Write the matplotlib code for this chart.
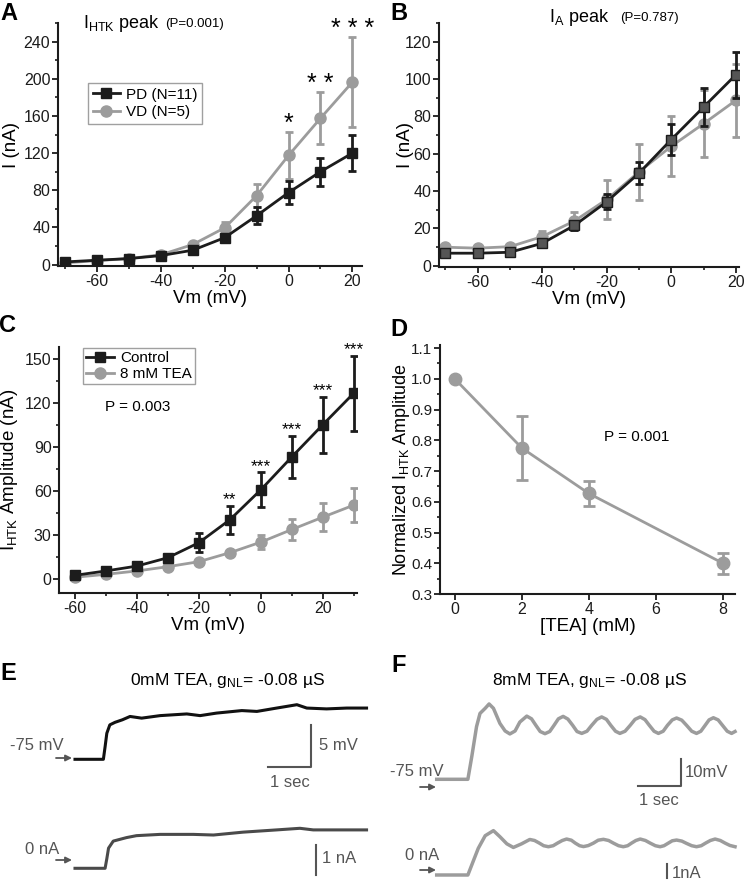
import matplotlib
matplotlib.use('Agg')
import matplotlib.pyplot as plt
from matplotlib.ticker import MultipleLocator
from matplotlib.lines import Line2D

plt.rcParams['font.family'] = ['Liberation Sans', 'DejaVu Sans']
plt.rcParams['mathtext.fontset'] = 'custom'
plt.rcParams['mathtext.rm'] = 'Liberation Sans'
plt.rcParams['mathtext.it'] = 'Liberation Sans:italic'
plt.rcParams['mathtext.bf'] = 'Liberation Sans:bold'
plt.rcParams['axes.unicode_minus'] = False

# ---- data ----
vm_ab = [-70, -60, -50, -40, -30, -20, -10, 0, 10, 20]
htk_pd = [2.9, 4.7, 6.5, 9.7, 15.5, 29, 52.6, 77.5, 100, 120]
htk_pd_err = [1, 1, 1, 1.5, 2, 4, 9, 12, 15, 19]
htk_vd = [1.8, 4.3, 6.5, 10.5, 21.6, 39.6, 74.2, 117.5, 157.5, 196.4]
htk_vd_err = [1, 1, 1, 2, 3, 6, 12.5, 25, 28, 48]
htk_stars = ['', '', '', '', '', '', '', '*', '* *', '* * *']

ia_pd = [6.6, 6.6, 7.1, 11.9, 21.5, 34.2, 49.5, 67.5, 84.9, 102.2]
ia_pd_err = [1, 1, 1, 1.5, 2.5, 4, 6, 8.5, 10, 12.5]
ia_vd = [9.8, 9.3, 10.1, 15.5, 23.9, 35.4, 50.2, 63.9, 76, 88.5]
ia_vd_err = [1, 1, 1, 3, 5, 10.5, 15, 16, 18, 19.5]

vm_c = [-60, -50, -40, -30, -20, -10, 0, 10, 20, 30]
ctrl = [2.7, 5.7, 9, 14.7, 24.9, 40.5, 60.9, 83.3, 105.2, 126.7]
ctrl_err = [1, 1, 1.5, 2, 6.5, 9.5, 12, 14.5, 19, 25.5]
tea = [1.4, 3.4, 5.7, 8.6, 12, 18.1, 25.3, 33.9, 42.3, 50.5]
tea_err = [0.5, 0.5, 1, 1, 1, 2, 5, 7, 9.5, 11.5]
c_stars = ['', '', '', '', '', '**', '***', '***', '***', '***']

tea_mm = [0, 2, 4, 8]
norm_amp = [1.0, 0.775, 0.627, 0.40]
norm_err = [0, 0.105, 0.04, 0.035]

# traces (time in s, voltage in mV, current in nA)
e_t = [0, 0.66, 0.70, 0.74, 0.81, 0.93, 1.1, 1.28, 1.55, 1.98, 2.6, 2.91,
       3.29, 3.88, 4.23, 4.69, 5.16, 5.39, 5.85, 6.32, 6.78]
e_v = [-75, -75, -73.5, -71.9, -70.9, -70.6, -70.3, -69.9, -70.1, -69.8, -69.6, -69.8,
       -69.5, -69.2, -69.3, -68.9, -68.5, -68.9, -69.0, -68.9, -68.9]
ei_t = [0, 0.70, 0.74, 0.78, 0.89, 1.2, 1.43, 1.98, 2.75, 3.22, 3.91, 4.69,
        5.23, 5.54, 6.24, 6.78]
ei_i = [0, 0, 0.3, 0.63, 0.85, 0.96, 1.02, 1.06, 1.06, 1.04, 1.13, 1.2,
        1.25, 1.2, 1.2, 1.2]

f_t = [0, 0.72, 0.81, 0.92, 1.00, 1.12, 1.21, 1.31, 1.46, 1.58, 1.69, 1.81, 1.92,
       2.08, 2.19, 2.29, 2.39, 2.50, 2.61, 2.71, 2.81,
       2.92, 3.03, 3.14, 3.24, 3.35, 3.47, 3.58, 3.70,
       3.81, 3.92, 4.02, 4.13, 4.23, 4.35, 4.47, 4.58,
       4.70, 4.81, 4.91, 5.02, 5.12, 5.23, 5.33, 5.44,
       5.54, 5.66, 5.77, 5.89, 6.00, 6.10, 6.20, 6.29,
       6.39, 6.50, 6.60, 6.71, 6.81, 6.89]
f_v = [-75, -75, -66.6, -55.5, -50.6, -48.7, -47.1, -48.7, -54.3, -57.1, -58.2, -57.1, -53.8,
       -51.6, -52.6, -55.0, -57.3, -58.1, -57.3, -55.0, -52.6,
       -51.7, -52.7, -55.0, -57.3, -58.0, -57.2, -55.0, -52.8,
       -51.9, -52.8, -55.0, -57.2, -58.0, -57.2, -55.0, -52.8,
       -51.9, -52.9, -55.0, -57.2, -58.0, -57.2, -55.0, -53.0,
       -52.3, -53.1, -55.0, -57.2, -58.0, -57.2, -55.0, -53.0,
       -52.2, -53.0, -55.0, -57.2, -58.0, -57.3]
fi_t = [0, 0.72, 0.85, 0.96, 1.12, 1.31, 1.46, 1.62, 1.77, 1.96,
        2.15, 2.26, 2.37, 2.47, 2.58, 2.69, 2.79, 2.90,
        3.00, 3.11, 3.20, 3.30, 3.39, 3.50, 3.62, 3.73,
        3.85, 3.97, 4.08, 4.20, 4.31, 4.41, 4.50, 4.60,
        4.70, 4.82, 4.93, 5.05, 5.16, 5.25, 5.35, 5.44,
        5.54, 5.66, 5.77, 5.89, 6.00, 6.11, 6.21, 6.32,
        6.43, 6.55, 6.66, 6.77, 6.89]
fi_i = [0, 0, 1.0, 1.84, 2.71, 3.06, 2.64, 2.15, 1.90, 2.15,
        2.45, 2.38, 2.20, 2.02, 1.95, 2.02, 2.20, 2.38,
        2.48, 2.40, 2.20, 2.02, 1.96, 2.03, 2.20, 2.40,
        2.46, 2.38, 2.20, 2.02, 1.95, 2.02, 2.20, 2.38,
        2.48, 2.38, 2.20, 2.02, 1.95, 2.02, 2.20, 2.36,
        2.41, 2.34, 2.18, 2.02, 1.95, 2.02, 2.20, 2.38,
        2.48, 2.38, 2.20, 2.04, 1.95]

# ---- layout helpers ----
W, H = 744, 884
black = '#1c1c1c'
gray = '#9c9c9c'
dgray = '#555555'

fig = plt.figure(figsize=(W / 100, H / 100), dpi=100)


def add_ax(l, t, r, b):
    return fig.add_axes([l / W, 1 - b / H, (r - l) / W, (b - t) / H])


def style(ax, size=11.5):
    for s in ['top', 'right']:
        ax.spines[s].set_visible(False)
    for s in ['left', 'bottom']:
        ax.spines[s].set_linewidth(1.5)
        ax.spines[s].set_color(black)
    ax.tick_params(which='major', direction='out', length=4, width=1.3,
                   labelsize=size, pad=1.5, colors=black)
    ax.tick_params(which='minor', direction='out', length=2.5, width=1.2, colors=black)


eb = dict(lw=2, elinewidth=2, capsize=3, capthick=2)

# ---- A ----
axA = add_ax(58, 23, 362, 266)
style(axA)
axA.errorbar(vm_ab, htk_vd, yerr=htk_vd_err, color=gray, marker='o', ms=8, zorder=2, **eb)
axA.errorbar(vm_ab, htk_pd, yerr=htk_pd_err, color=black, marker='s', ms=7, zorder=3, **eb)
for x, m, e, s in zip(vm_ab, htk_vd, htk_vd_err, htk_stars):
    if s:
        axA.annotate(s, (x, m + e), xytext=(0, 1), textcoords='offset points',
                     ha='center', va='baseline', fontsize=18, annotation_clip=False)
axA.set_xlim(-72.2, 23)
axA.set_ylim(-1.5, 260)
axA.xaxis.set_major_locator(MultipleLocator(20))
axA.xaxis.set_minor_locator(MultipleLocator(10))
axA.yaxis.set_major_locator(MultipleLocator(40))
axA.yaxis.set_minor_locator(MultipleLocator(20))
axA.set_xlabel('Vm (mV)', fontsize=13.5, labelpad=1)
axA.set_ylabel('I (nA)', fontsize=13.5)
axA.yaxis.set_label_coords(-0.125, 0.5)
handles = [Line2D([], [], color=black, marker='s', ms=7, lw=2),
           Line2D([], [], color=gray, marker='o', ms=8, lw=2)]
legA = axA.legend(handles, ['PD (N=11)', 'VD (N=5)'], loc='upper left',
                  bbox_to_anchor=(0.099, 0.753), borderaxespad=0, fontsize=11,
                  fancybox=False, handlelength=1.8, handletextpad=0.4,
                  borderpad=0.3, labelspacing=0.25)
legA.get_frame().set_edgecolor('#888888')
legA.get_frame().set_linewidth(1)

# ---- B ----
axB = add_ax(439, 23, 739, 267)
style(axB)
axB.errorbar(vm_ab, ia_vd, yerr=ia_vd_err, color=gray, marker='o', ms=8, zorder=2, **eb)
axB.errorbar(vm_ab, ia_pd, yerr=ia_pd_err, color=black, marker='s', ms=7,
             mfc='#555555', mec=black, zorder=3, **eb)
axB.set_xlim(-72, 21.0)
axB.set_ylim(-0.8, 130)
axB.xaxis.set_major_locator(MultipleLocator(20))
axB.xaxis.set_minor_locator(MultipleLocator(10))
axB.yaxis.set_major_locator(MultipleLocator(20))
axB.yaxis.set_minor_locator(MultipleLocator(10))
axB.set_xlabel('Vm (mV)', fontsize=13.5, labelpad=1)
axB.set_ylabel('I (nA)', fontsize=13.5)
axB.yaxis.set_label_coords(-0.083, 0.5)

# ---- C ----
axC = add_ax(59.3, 347, 357, 593.3)
style(axC)
axC.errorbar(vm_c, tea, yerr=tea_err, color=gray, marker='o', ms=8, zorder=2, **eb)
axC.errorbar(vm_c, ctrl, yerr=ctrl_err, color=black, marker='s', ms=7, zorder=3, **eb)
for x, m, e, s in zip(vm_c, ctrl, ctrl_err, c_stars):
    if s:
        axC.annotate(s, (x, m + e), xytext=(0, 1), textcoords='offset points',
                     ha='center', va='baseline', fontsize=12.5, annotation_clip=False)
axC.set_xlim(-65, 31)
axC.set_ylim(-9.5, 158)
axC.xaxis.set_major_locator(MultipleLocator(20))
axC.xaxis.set_minor_locator(MultipleLocator(10))
axC.yaxis.set_major_locator(MultipleLocator(30))
axC.yaxis.set_minor_locator(MultipleLocator(15))
axC.set_xlabel('Vm (mV)', fontsize=13.5, labelpad=1)
axC.set_ylabel(r'I$_{\mathrm{HTK}}$ Amplitude (nA)', fontsize=13.5)
axC.yaxis.set_label_coords(-0.132, 0.5)
axC.text(0.153, 0.757, 'P = 0.003', transform=axC.transAxes, fontsize=11,
         ha='left', va='center')
handles = [Line2D([], [], color=black, marker='s', ms=7, lw=2),
           Line2D([], [], color=gray, marker='o', ms=8, lw=2)]
legC = axC.legend(handles, ['Control', '8 mM TEA'], loc='upper left',
                  bbox_to_anchor=(0.08, 0.996), borderaxespad=0, fontsize=11,
                  fancybox=False, handlelength=1.8, handletextpad=0.4,
                  borderpad=0.2, labelspacing=0.15)
legC.get_frame().set_edgecolor('#888888')
legC.get_frame().set_linewidth(1)

# ---- D ----
axD = add_ax(440, 345, 735, 594)
style(axD, size=11)
axD.errorbar(tea_mm, norm_amp, yerr=norm_err, color=gray, marker='o', ms=9,
             lw=2, elinewidth=2, capsize=4.5, capthick=2)
axD.set_xlim(-0.44, 8.36)
axD.set_ylim(0.3, 1.11)
axD.xaxis.set_major_locator(MultipleLocator(2))
axD.yaxis.set_major_locator(MultipleLocator(0.1))
axD.yaxis.set_minor_locator(MultipleLocator(0.05))
axD.tick_params(axis='x', labelsize=11.5)
axD.set_xlabel('[TEA] (mM)', fontsize=13.5, labelpad=1)
axD.set_ylabel(r'Normalized I$_{\mathrm{HTK}}$ Amplitude', fontsize=13)
axD.yaxis.set_label_coords(-0.096, 0.5)
axD.text((603.7 - 440) / 295, (594 - 436.7) / 249, 'P = 0.001',
         transform=axD.transAxes, fontsize=11, ha='left', va='center')


# ---- E / F traces ----
def trace_axes(l, t, r, b, px0, py0, v0, xs, ys):
    # data point (0, v0) sits at pixel (px0, py0)
    ax = add_ax(l, t, r, b)
    ax.set_xlim((l - px0) / xs, (r - px0) / xs)
    ax.set_ylim(v0 - (b - py0) / ys, v0 + (py0 - t) / ys)
    ax.set_axis_off()
    return ax


axEV = trace_axes(60, 690, 380, 800, 75, 759.3, -75, 43, 8.4)
axEV.plot(e_t, e_v, color='#111111', lw=2.2)
axEV.plot([4.49, 5.49, 5.49], [-75.9, -75.9, -70.9], color=dgray, lw=1.5)
axEV.text(5.68, -73.4, '5 mV', fontsize=12, color=dgray, ha='left', va='center')
axEV.text(4.99, -76.9, '1 sec', fontsize=12, color=dgray, ha='center', va='top')

axEI = trace_axes(60, 810, 380, 884, 75, 868.3, 0, 43, 32)
axEI.plot(ei_t, ei_i, color='#4a4a4a', lw=2.2)
axEI.plot([5.6, 5.6], [-0.22, 0.74], color=dgray, lw=1.5)
axEI.text(5.75, 0.31, '1 nA', fontsize=12, color=dgray, ha='left', va='center')

axFV = trace_axes(430, 690, 744, 800, 436.7, 779.3, -75, 43.3, 2.7)
axFV.plot(f_t, f_v, color=gray, lw=2.5)
axFV.plot([4.64, 5.64, 5.64], [-77.5, -77.5, -67.5], color=dgray, lw=1.5)
axFV.text(5.74, -72.5, '10mV', fontsize=12, color=dgray, ha='left', va='center')
axFV.text(5.14, -80.0, '1 sec', fontsize=12, color=dgray, ha='center', va='top')

axFI = trace_axes(430, 810, 744, 884, 436.7, 875, 0, 43.3, 14.5)
axFI.plot(fi_t, fi_i, color=gray, lw=2.5)
axFI.plot([5.32, 5.32], [-0.23, 0.74], color=dgray, lw=1.5)
axFI.text(5.43, 0.12, '1nA', fontsize=12, color=dgray, ha='left', va='center')

# ---- overlay for letters, titles, arrows ----
ov = fig.add_axes([0, 0, 1, 1])
ov.set_xlim(0, W)
ov.set_ylim(H, 0)
ov.set_axis_off()
ov.patch.set_alpha(0)

for lab, x, y in [('A', 9, 14), ('B', 399, 14), ('C', 8, 326), ('D', 399, 330),
                  ('E', 8, 674), ('F', 399, 665)]:
    ov.text(x, y, lab, fontsize=17, fontweight='bold', ha='center', va='center')

ov.text(83, 23, r'I$_{\mathrm{HTK}}$ peak', fontsize=13, ha='left', va='center')
ov.text(165, 24, '(P=0.001)', fontsize=9.5, ha='left', va='center')
ov.text(549, 17, r'I$_{\mathrm{A}}$ peak', fontsize=13, ha='left', va='center')
ov.text(620, 18, '(P=0.787)', fontsize=9.5, ha='left', va='center')

ov.text(227, 680, r'0mM TEA, g$_{\mathrm{NL}}$= -0.08 µS', fontsize=12.5,
        ha='center', va='center')
ov.text(589, 680, r'8mM TEA, g$_{\mathrm{NL}}$= -0.08 µS', fontsize=12.5,
        ha='center', va='center')

for txt, tx, ty, ax0, ax1, ay in [('-75 mV', 37, 746, 56, 72, 758),
                                  ('0 nA', 42, 849, 56, 72, 860),
                                  ('-75 mV', 417, 772, 420, 436, 787),
                                  ('0 nA', 422, 856, 420, 436, 870)]:
    ov.text(tx, ty, txt, fontsize=12, color=dgray, ha='center', va='center')
    ov.annotate('', xy=(ax1, ay), xytext=(ax0, ay),
                arrowprops=dict(arrowstyle='-|>', color=dgray, lw=1.3,
                                mutation_scale=9, shrinkA=0, shrinkB=0))

fig.savefig('out.png', dpi=100)
